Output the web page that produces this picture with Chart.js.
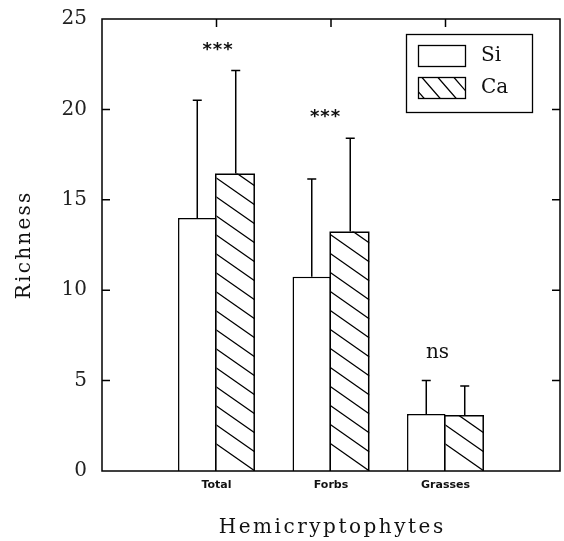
<!DOCTYPE html>
<html>
<head>
<meta charset="utf-8">
<script src="https://cdn.jsdelivr.net/npm/chart.js@4.4.1/dist/chart.umd.min.js"></script>
<style>
  html, body { margin: 0; padding: 0; background: #fff; }
  #wrap { width: 564px; height: 541px; }
</style>
</head>
<body>
<div id="wrap"><canvas id="chart"></canvas></div>
<script>
// Data
const categories = ['Total', 'Forbs', 'Grasses'];
const siValues = [14.0, 10.75, 3.15];
const caValues = [16.45, 13.25, 3.1];
const siErrors = [6.5, 5.4, 1.85];
const caErrors = [5.7, 5.15, 1.6];
const yTicks = [0, 5, 10, 15, 20, 25];
const marks = ['***', '***', 'ns'];
const markLevels = [23.6, 19.9, 6.5];

const canvas = document.getElementById('chart');

// padding slots at both ends so the three groups sit at 1..3 of 0..4
const labels = ['', ...categories, ''];
const pad = arr => [null, ...arr, null];

const serif = 'DejaVu Serif';

function spacedText(c, text, x, y, target) {
    c.letterSpacing = '0px';
    const w = c.measureText(text).width;
    const sp = (target - w) / text.length;
    c.letterSpacing = sp + 'px';
    // letterSpacing adds after each glyph, shift by half to stay centred
    c.fillText(text, x + sp / 2, y);
    c.letterSpacing = '0px';
}

// "\\\" hatch inside a rect, lines anchored on the bottom-right corner
function hatch(c, left, top, right, bottom, dy, slope) {
    c.save();
    c.beginPath();
    c.rect(left, top, right - left, bottom - top);
    c.clip();
    const w = right - left;
    c.beginPath();
    for (let y0 = bottom; y0 > top - w * slope - dy; y0 -= dy) {
        // line through (right, y0) going up-left
        c.moveTo(right, y0);
        c.lineTo(left - 2, y0 - (w + 2) * slope);
    }
    c.stroke();
    c.restore();
}

const decor = {
    id: 'decor',
    afterDatasetsDraw(chart) {
        const c = chart.ctx;
        const area = chart.chartArea;
        const xs = chart.scales.x, ys = chart.scales.y;
        c.save();
        c.strokeStyle = '#000';

        // hatch on the Ca bars, then their outline; the left edge sits
        // on the Si bar's right border so the shared edge stays single
        const caMeta = chart.getDatasetMeta(1);
        categories.forEach((cat, i) => {
            const bar = caMeta.data[i + 1];
            const l = bar.x - bar.width / 2, r = bar.x + bar.width / 2;
            c.lineWidth = 1.3;
            hatch(c, l, bar.y, r, bar.base, 19, 0.7);
            c.lineWidth = 1.5;
            c.beginPath();
            c.moveTo(l - 0.75, bar.base);
            c.lineTo(l - 0.75, bar.y + 0.75);
            c.lineTo(r - 0.75, bar.y + 0.75);
            c.lineTo(r - 0.75, bar.base);
            c.stroke();
        });

        c.lineWidth = 1.5;
        // error bars (upper only)
        const errs = [siErrors, caErrors];
        const vals = [siValues, caValues];
        chart.data.datasets.forEach((ds, di) => {
            const meta = chart.getDatasetMeta(di);
            categories.forEach((cat, i) => {
                const bar = meta.data[i + 1];
                const top = ys.getPixelForValue(vals[di][i] + errs[di][i]);
                c.beginPath();
                c.moveTo(bar.x, bar.y);
                c.lineTo(bar.x, top);
                c.moveTo(bar.x - 4.5, top);
                c.lineTo(bar.x + 4.5, top);
                c.stroke();
            });
        });

        // frame with inward ticks
        c.strokeRect(area.left, area.top, area.right - area.left, area.bottom - area.top);
        c.beginPath();
        yTicks.slice(1, -1).forEach(v => {
            const y = ys.getPixelForValue(v);
            c.moveTo(area.left, y); c.lineTo(area.left + 8, y);
            c.moveTo(area.right, y); c.lineTo(area.right - 8, y);
        });
        categories.forEach((cat, i) => {
            const x = xs.getPixelForValue(i + 1);
            c.moveTo(x, area.top); c.lineTo(x, area.top + 8);
        });
        c.stroke();

        // significance marks
        c.fillStyle = '#111';
        c.textAlign = 'center';
        c.textBaseline = 'alphabetic';
        const shift = [1, -6, -8];
        marks.forEach((m, i) => {
            const x = xs.getPixelForValue(i + 1) + shift[i];
            const y = ys.getPixelForValue(markLevels[i]);
            if (m === 'ns') {
                c.font = '20px ' + serif;
                c.fillText(m, x, y + 5);
            } else {
                c.font = 'bold 18px "DejaVu Sans"';
                spacedText(c, m, x, y + 11, 31);
            }
        });

        // legend
        c.lineWidth = 1.3;
        c.strokeRect(406.5, 34.5, 126, 78);
        c.fillStyle = '#fff';
        c.fillRect(418.5, 45.5, 47, 21);
        c.strokeRect(418.5, 45.5, 47, 21);
        c.fillRect(418.5, 77.5, 47, 21);
        c.lineWidth = 1.2;
        c.save();
        c.beginPath();
        c.rect(418.5, 77.5, 47, 21);
        c.clip();
        c.beginPath();
        for (let x0 = 406; x0 < 480; x0 += 16) {
            c.moveTo(x0, 77.5);
            c.lineTo(x0 + 21 / 1.15, 98.5);
        }
        c.stroke();
        c.restore();
        c.lineWidth = 1.3;
        c.strokeRect(418.5, 77.5, 47, 21);
        c.fillStyle = '#111';
        c.textAlign = 'left';
        c.textBaseline = 'middle';
        c.font = '20px ' + serif;
        c.fillText('Si', 481, 56);
        c.fillText('Ca', 481, 88);

        // axis titles
        c.textAlign = 'center';
        c.textBaseline = 'middle';
        spacedText(c, 'Hemicryptophytes', (area.left + area.right) / 2, 528, 227);
        c.translate(25, 246);
        c.rotate(-Math.PI / 2);
        spacedText(c, 'Richness', 0, 0, 109);
        c.restore();
    }
};

new Chart(canvas, {
    type: 'bar',
    data: {
        labels: labels,
        datasets: [
            {
                label: 'Si',
                data: pad(siValues),
                backgroundColor: '#fff',
                borderColor: '#000',
                borderWidth: 1.5,
                categoryPercentage: 0.672,
                barPercentage: 1.0
            },
            {
                label: 'Ca',
                data: pad(caValues),
                backgroundColor: '#fff',
                borderColor: '#000',
                borderWidth: 0,
                categoryPercentage: 0.672,
                barPercentage: 1.0
            }
        ]
    },
    options: {
        responsive: true,
        maintainAspectRatio: false,
        animation: false,
        layout: { padding: { top: 19, right: 4, bottom: 0, left: 0 } },
        plugins: {
            legend: { display: false },
            tooltip: { enabled: false }
        },
        scales: {
            x: {
                offset: false,
                grid: { display: false, drawTicks: false },
                border: { display: false },
                ticks: {
                    autoSkip: false,
                    maxRotation: 0,
                    padding: 8,
                    color: '#111',
                    font: { family: 'DejaVu Sans', size: 11, weight: 'bold' }
                },
                afterFit(scale) {
                    scale.height = 70;
                    scale.paddingLeft = 0;
                    scale.paddingRight = 0;
                }
            },
            y: {
                min: 0,
                max: 25,
                grid: { display: false, drawTicks: false },
                border: { display: false },
                afterBuildTicks(scale) { scale.ticks = yTicks.map(v => ({ value: v })); },
                ticks: {
                    padding: 15,
                    color: '#222',
                    font: { family: serif, size: 20 }
                },
                afterFit(scale) {
                    scale.width = 102;
                    scale.paddingTop = 0;
                    scale.paddingBottom = 0;
                }
            }
        }
    },
    plugins: [decor]
});
</script>
</body>
</html>
